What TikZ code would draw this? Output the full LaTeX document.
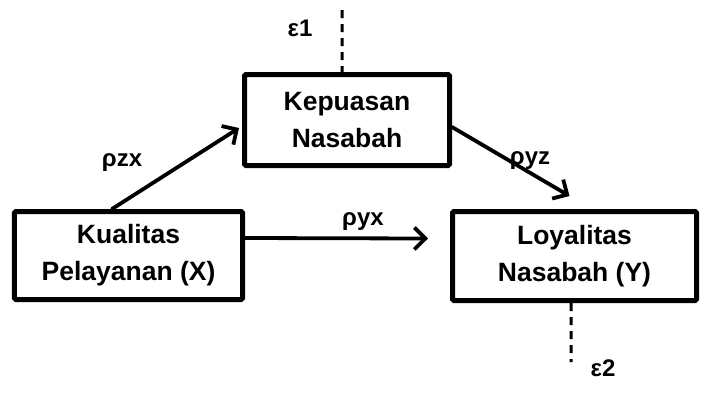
\documentclass[tikz,border=0pt]{standalone}
\usepackage{fontspec}
\setmainfont{Liberation Sans}
\usetikzlibrary{arrows.meta,calc}
\tikzset{
  box/.style={draw, line width=5bp, rounded corners=1.5bp, align=center,
    font=\fontsize{26.5bp}{37bp}\selectfont\bfseries, inner sep=0pt},
  arr/.style={line width=3.8bp, line cap=round, -{Straight Barb[length=11bp,width=22bp,line width=3.8bp]}},
  lbl/.style={font=\fontsize{24bp}{28bp}\selectfont\bfseries, inner sep=0pt},
  errline/.style={line width=3bp, dash pattern=on 8bp off 6bp}
}
\begin{document}
\begin{tikzpicture}[x=1bp,y=-1bp]
\useasboundingbox (0,0) rectangle (701,394);
\node[box, minimum width=205bp, minimum height=91bp] (kep) at (347,120) {Kepuasan\\Nasabah};
\node[box, minimum width=228bp, minimum height=88bp] (kual) at (128.5,255.5) {Kualitas\\Pelayanan (X)};
\node[box, minimum width=244bp, minimum height=89bp] (loy) at (574.5,256) {Loyalitas\\Nasabah (Y)};
\coordinate (e1top) at (342,10);
\coordinate (e2bot) at (571,362);
\draw[arr] ([xshift=-16.5bp]kual.north) -- ([yshift=-8bp,xshift=-3bp]kep.west);
\draw[arr] ([yshift=-7bp]kep.east) -- ([xshift=-5bp,yshift=13bp]loy.north);
\draw[arr] ([yshift=17.5bp]kual.east) -- ([yshift=17.5bp,xshift=-22bp]loy.west);
\draw[errline] (e1top) -- ([xshift=-5bp]kep.north);
\draw[errline] ([xshift=-3.5bp]loy.south) -- (e2bot);
\node[lbl] (lzx) at (122,163) {ρzx};
\node[lbl] (lyx) at (363,222) {ρyx};
\node[lbl] (lyz) at (530,161) {ρyz};
\node[lbl] (le1) at (300,28) {ε1};
\node[lbl] (le2) at (603,368) {ε2};
\end{tikzpicture}
\end{document}
